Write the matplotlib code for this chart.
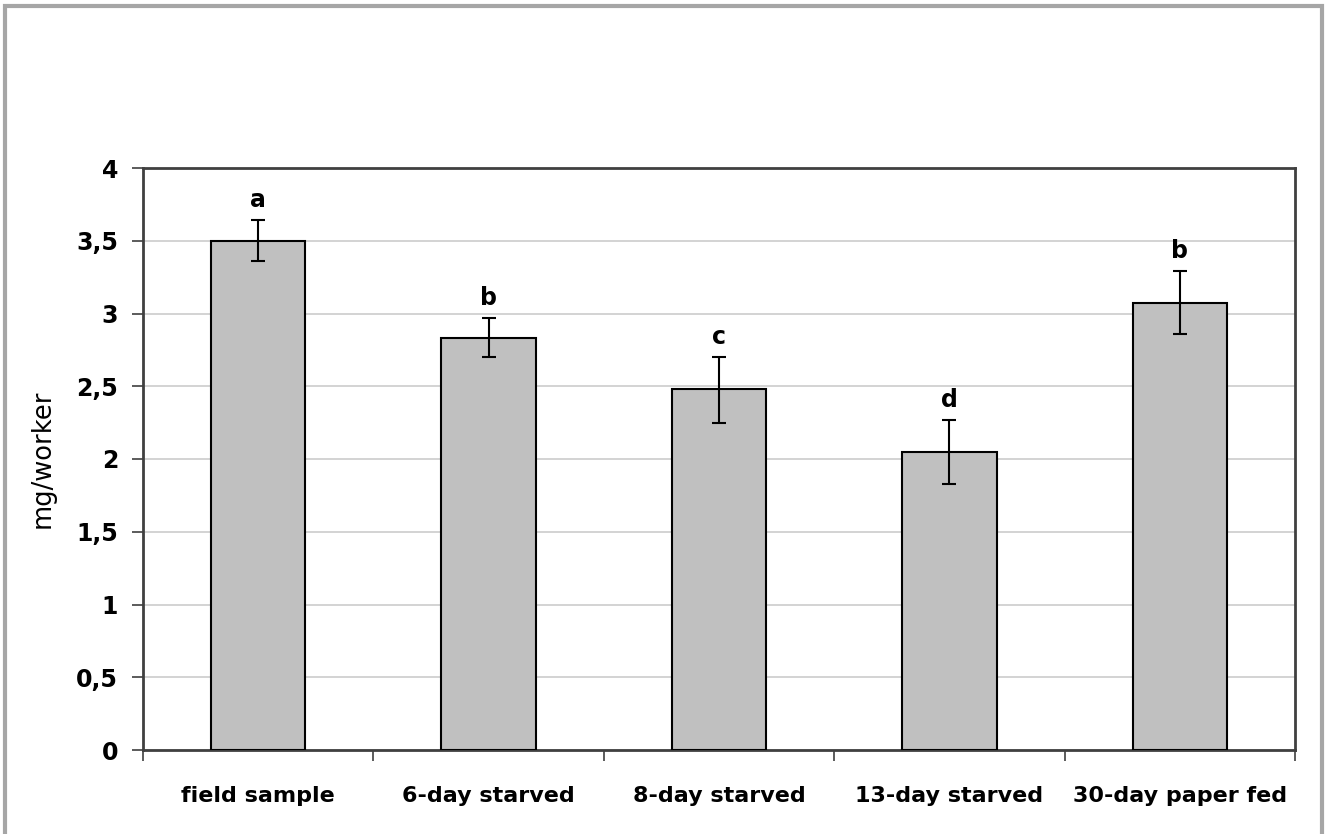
import numpy as np
import matplotlib
matplotlib.use('Agg')
from matplotlib import pyplot as plt
from matplotlib.patches import Rectangle

# data
groups = ['field sample', '6-day starved', '8-day starved', '13-day starved', '30-day paper fed']
means = [3.50, 2.83, 2.48, 2.05, 3.07]
err_low = [0.14, 0.13, 0.23, 0.22, 0.21]
err_high = [0.14, 0.14, 0.22, 0.22, 0.22]
letters = ['a', 'b', 'c', 'd', 'b']
yticks = [0, 0.5, 1, 1.5, 2, 2.5, 3, 3.5, 4]

plt.rcParams['font.family'] = ['DejaVu Sans']

fig = plt.figure(figsize=(13.3, 8.34), dpi=100)
fig.patches.append(Rectangle((5 / 1330, -0.01), 1317 / 1330, 1.0 - 6 / 834 + 0.01,
                             transform=fig.transFigure, fill=False,
                             edgecolor='#a6a6a6', linewidth=3, zorder=0))

ax = fig.add_axes([143 / 1330, 1 - 750 / 834, (1295 - 143) / 1330, (750 - 168) / 834])

x = np.arange(len(groups))
ax.bar(x, means, width=0.41, color='#c0c0c0', edgecolor='black', linewidth=1.5, zorder=3)
ax.errorbar(x, means, yerr=[err_low, err_high], fmt='none', ecolor='black',
            elinewidth=1.5, capsize=5, capthick=1.5, zorder=4)

# significance letters above the error bars
for xi, m, e, lab in zip(x, means, err_high, letters):
    ax.text(xi, m + e + 0.055, lab, ha='center', va='bottom', fontsize=17, fontweight='bold')

ax.set_xlim(-0.5, len(groups) - 0.5)
ax.set_ylim(0, 4)
ax.set_yticks(yticks)
ax.set_yticklabels([f'{v:g}'.replace('.', ',') for v in yticks], fontsize=17, fontweight='bold')
ax.yaxis.grid(True, color='#cccccc', linewidth=1.2)
ax.set_axisbelow(True)

ax.set_xticks(x)
ax.set_xticklabels(groups, fontsize=16, fontweight='bold')
ax.tick_params(axis='x', length=0, pad=26)
ax.set_xticks(np.arange(-0.5, len(groups)), minor=True)
ax.tick_params(axis='x', which='minor', length=8, width=1.2, color='#404040')
ax.tick_params(axis='y', length=8, width=1.2, color='#404040', pad=10)

ax.set_ylabel('mg/worker', fontsize=18.5, labelpad=15)

for s in ax.spines.values():
    s.set_color('#404040')
    s.set_linewidth(2)

fig.savefig('out.png', dpi=100)
